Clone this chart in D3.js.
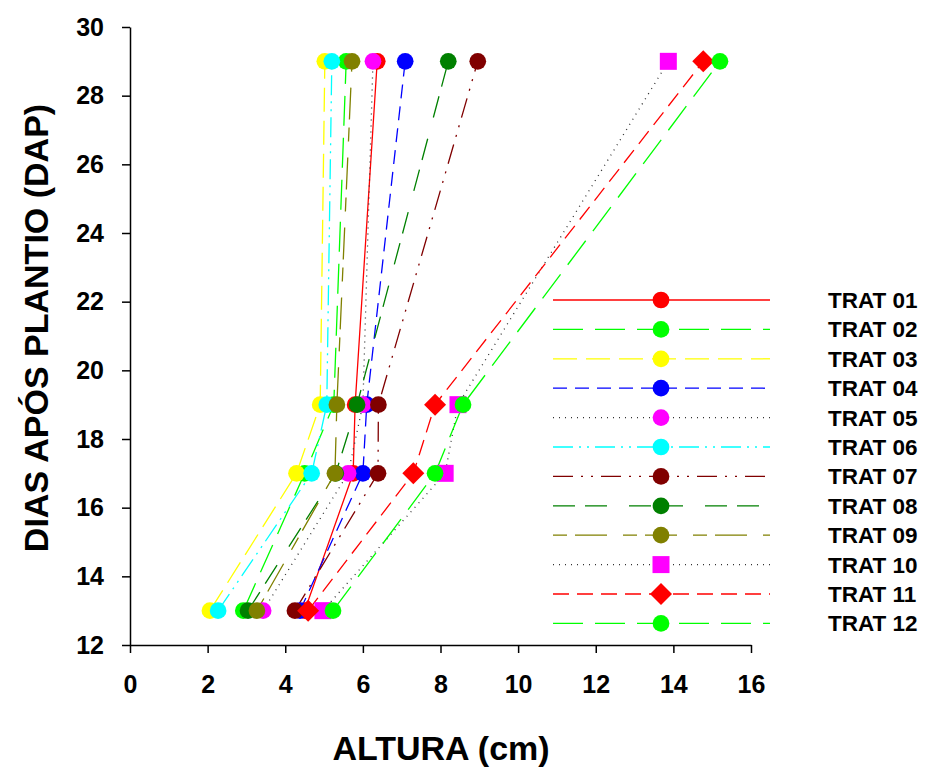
<!DOCTYPE html>
<html><head><meta charset="utf-8">
<script src="https://cdn.jsdelivr.net/npm/d3@7"></script>
<style>body{margin:0;background:#fff}svg{display:block}text{font-family:"Liberation Sans",Arial,sans-serif;font-weight:bold}</style>
</head><body>
<svg id="c" width="926" height="767"></svg>
<script>
const days = [13, 17, 19, 29];
const seriesNames = ["TRAT 01","TRAT 02","TRAT 03","TRAT 04","TRAT 05","TRAT 06","TRAT 07","TRAT 08","TRAT 09","TRAT 10","TRAT 11","TRAT 12"];
const trat01 = [4.5, 5.75, 5.8, 6.37];
const trat02 = [2.92, 4.5, 5.25, 5.57];
const trat03 = [2.06, 4.29, 4.9, 5.02];
const trat04 = [4.38, 6.0, 6.1, 7.09];
const trat05 = [3.43, 5.62, 6.0, 6.26];
const trat06 = [2.27, 4.68, 5.07, 5.2];
const trat07 = [4.25, 6.39, 6.4, 8.96];
const trat08 = [3.04, 5.3, 5.85, 8.2];
const trat09 = [3.27, 5.28, 5.33, 5.72];
const trat10 = [4.97, 8.12, 8.45, 13.87];
const trat11 = [4.59, 7.30, 7.86, 14.77];
const trat12 = [5.23, 7.86, 8.58, 15.2];
const xTicks = [0,2,4,6,8,10,12,14,16];
const yTicks = [12,14,16,18,20,22,24,26,28,30];

const values = [trat01,trat02,trat03,trat04,trat05,trat06,trat07,trat08,trat09,trat10,trat11,trat12];
const styles = [
  {line:"#ff0000", fill:"#ff0000", dash:null, sym:"circle"},
  {line:"#00ff00", fill:"#00ff00", dash:"30,12", sym:"circle"},
  {line:"#ffff00", fill:"#ffff00", dash:"24,9", sym:"circle"},
  {line:"#0000ff", fill:"#0000ff", dash:"14,8", sym:"circle"},
  {line:"#333333", fill:"#ff00ff", dash:"1,5", sym:"circle"},
  {line:"#00ffff", fill:"#00ffff", dash:"20,6,2,6,2,6", sym:"circle"},
  {line:"#800000", fill:"#800000", dash:"20,8,2,8,2,8", sym:"circle"},
  {line:"#008000", fill:"#008000", dash:"22,10,22,22", sym:"circle"},
  {line:"#808000", fill:"#808000", dash:"14,8,32,16", sym:"circle"},
  {line:"#333333", fill:"#ff00ff", dash:"1,5", sym:"square"},
  {line:"#ff0000", fill:"#ff0000", dash:"16,8", sym:"diamond"},
  {line:"#00ff00", fill:"#00ff00", dash:"30,12", sym:"circle"}
];

const svg = d3.select("#c");
const x = d3.scaleLinear().domain([0,16]).range([130,751]);
const y = d3.scaleLinear().domain([12,30]).range([645,27]);

const xAxis = svg.append("g").attr("transform","translate(0,645)")
  .call(d3.axisBottom(x).tickValues(xTicks).tickSize(8).tickSizeOuter(0).tickPadding(22));
const yAxis = svg.append("g").attr("transform","translate(130,0)")
  .call(d3.axisLeft(y).tickValues(yTicks).tickSize(8).tickSizeOuter(0).tickPadding(18));
[xAxis,yAxis].forEach(a=>{
  a.attr("font-size",null).attr("font-family",null);
  a.selectAll("path,line").attr("stroke","#000").attr("stroke-width",1.5);
  a.selectAll("text").style("font-size","25px").style("font-weight","bold").attr("fill","#000");
});

svg.append("text").attr("x",441).attr("y",760).attr("text-anchor","middle")
  .style("font-size","34px").text("ALTURA (cm)");
svg.append("text").attr("transform","translate(48,328) rotate(-90)").attr("text-anchor","middle")
  .style("font-size","34px").text("DIAS APÓS PLANTIO (DAP)");

function symPath(sym){
  if(sym==="square") return d3.symbol(d3.symbolSquare, 289)();
  if(sym==="diamond") return "M0,-11L11,0L0,11L-11,0Z";
  return d3.symbol(d3.symbolCircle, 220)();
}

const line = d3.line().x(d=>x(d[0])).y(d=>y(d[1]));
const gLines = svg.append("g");
const gMarks = svg.append("g");
values.forEach((vals,i)=>{
  const st = styles[i];
  const pts = vals.map((v,j)=>[v, days[j]]);
  gLines.append("path").datum(pts).attr("d",line).attr("fill","none")
    .attr("stroke",st.line).attr("stroke-width",1.3)
    .attr("stroke-dasharray",st.dash);
});
values.forEach((vals,i)=>{
  const st = styles[i];
  vals.forEach((v,j)=>{
    gMarks.append("path").attr("d",symPath(st.sym))
      .attr("transform",`translate(${x(v)},${y(days[j])})`)
      .attr("fill",st.fill);
  });
});

// legend
const lg = svg.append("g");
seriesNames.forEach((name,i)=>{
  const st = styles[i];
  const yy = 300 + i*29.4;
  lg.append("line").attr("x1",553).attr("x2",770).attr("y1",yy).attr("y2",yy)
    .attr("stroke",st.line).attr("stroke-width",1.3).attr("stroke-dasharray",st.dash);
  lg.append("path").attr("d",symPath(st.sym)).attr("transform",`translate(661,${yy})`).attr("fill",st.fill);
  lg.append("text").attr("x",828).attr("y",yy+8).style("font-size","22.5px").text(name);
});
</script>
</body></html>
